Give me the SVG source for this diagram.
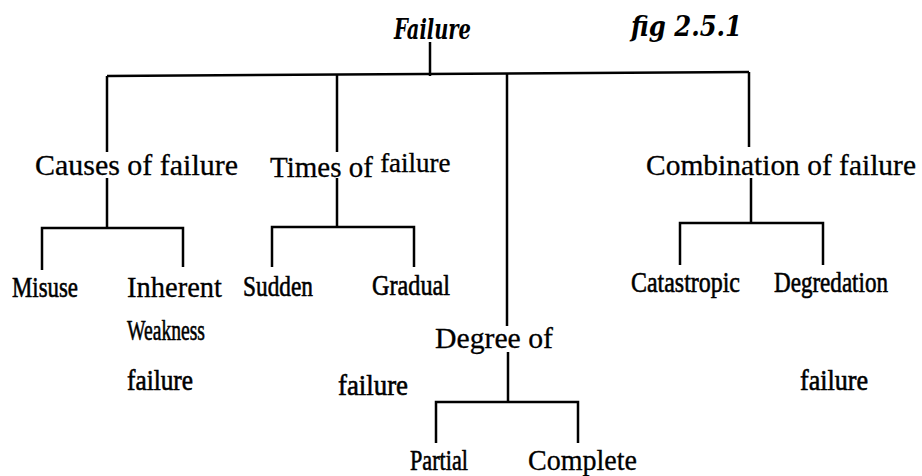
<svg xmlns="http://www.w3.org/2000/svg" width="922" height="476" viewBox="0 0 922 476">
<style>
text{font-family:"Liberation Serif","DejaVu Serif",serif;fill:#000}
.t{font-family:"DejaVu Serif",serif;font-size:28px;font-weight:700;font-style:italic}
.l1{font-size:29px;stroke:#000;stroke-width:0.3}
.l2{font-size:30px;stroke:#000;stroke-width:0.6}
.c line,.c path{stroke:#000;stroke-width:2.5;fill:none}
</style>
<rect width="922" height="476" fill="#fff"/>
<g class="c" id="connectors">
<line x1="430" y1="42" x2="430" y2="76"/>
<path d="M107,76 L749,72"/>
<line x1="107" y1="76" x2="107" y2="152"/>
<line x1="337" y1="75" x2="337" y2="152"/>
<line x1="507" y1="74" x2="507" y2="326"/>
<line x1="749" y1="72" x2="749" y2="147"/>
<path d="M107,178 V228 M42,270 V228 H183 V267"/>
<path d="M337,178 V227 M272,267 V227 H414 V267"/>
<path d="M751,178 V223 M680,265 V223 H823 V265"/>
<path d="M508,352 V402 M436,443 V402 H578 V443"/>
</g>
<g id="failure"><text class="t" x="394" y="39" textLength="77" lengthAdjust="spacingAndGlyphs">Failure</text></g>
<g id="fig"><text class="t" x="631" y="36" textLength="111" lengthAdjust="spacingAndGlyphs">fig 2.5.1</text></g>
<g id="causes"><text class="l1" x="35" y="175" textLength="203" lengthAdjust="spacingAndGlyphs">Causes of  failure</text></g>
<g id="times"><text class="l1" x="270" y="177">Times of <tspan font-size="27" dy="-5">failure</tspan></text></g>
<g id="degree"><text class="l1" x="435" y="348" textLength="118" lengthAdjust="spacingAndGlyphs">Degree of</text></g>
<g id="combination"><text class="l1" x="646" y="175" textLength="270" lengthAdjust="spacingAndGlyphs">Combination of  failure</text></g>
<g id="misuse"><text class="l2" x="12" y="297" textLength="66" lengthAdjust="spacingAndGlyphs">Misuse</text></g>
<g id="inherent"><text class="l1" x="127" y="297" textLength="95" lengthAdjust="spacingAndGlyphs">Inherent</text>
<text class="l2" x="127" y="340" textLength="78" lengthAdjust="spacingAndGlyphs">Weakness</text>
<text class="l2" x="127" y="390" textLength="66" lengthAdjust="spacingAndGlyphs">failure</text></g>
<g id="sudden"><text class="l2" x="243" y="296" textLength="70" lengthAdjust="spacingAndGlyphs">Sudden</text></g>
<g id="gradual"><text class="l2" x="372" y="295" textLength="78" lengthAdjust="spacingAndGlyphs">Gradual</text>
<text class="l2" x="338" y="395" textLength="70" lengthAdjust="spacingAndGlyphs">failure</text></g>
<g id="catastropic"><text class="l2" x="631" y="292" textLength="109" lengthAdjust="spacingAndGlyphs">Catastropic</text></g>
<g id="degredation"><text class="l2" x="774" y="292" textLength="114" lengthAdjust="spacingAndGlyphs">Degredation</text>
<text class="l2" x="800" y="390" textLength="68" lengthAdjust="spacingAndGlyphs">failure</text></g>
<g id="partial"><text class="l2" x="410" y="470" textLength="58" lengthAdjust="spacingAndGlyphs">Partial</text></g>
<g id="complete"><text class="l1" x="528" y="470" textLength="109" lengthAdjust="spacingAndGlyphs">Complete</text></g>
</svg>
